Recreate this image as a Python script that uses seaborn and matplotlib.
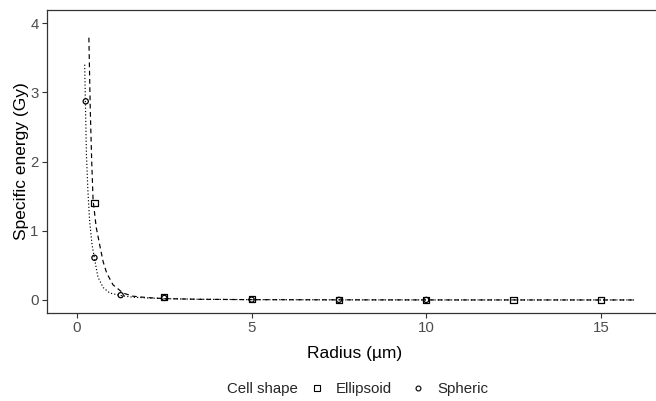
import matplotlib
matplotlib.use("Agg")
import matplotlib.pyplot as plt
from matplotlib.lines import Line2D
import numpy as np
import pandas as pd
import seaborn as sns

# Simulated specific energy per cell radius
ellipsoid_r = [0.5, 2.5, 5, 7.5, 10, 12.5, 15]
ellipsoid_z = [1.40, 0.04, 0.01, 0.005, 0.003, 0.002, 0.001]
spheric_r = [0.25, 0.5, 1.25, 2.5, 5, 7.5, 10]
spheric_z = [2.87, 0.61, 0.07, 0.03, 0.005, 0.002, 0.001]

# Fitted curves
ellipsoid_fit_r = [0.34, 0.38, 0.42, 0.46, 0.55, 0.66, 0.75, 0.85, 1.03, 1.32,
                   1.6, 2.0, 2.5, 3.5, 5, 7.5, 10, 12.5, 16]
ellipsoid_fit_z = [3.79, 2.75, 2.02, 1.45, 1.05, 0.77, 0.55, 0.39, 0.22, 0.10,
                   0.055, 0.035, 0.02, 0.01, 0.005, 0.002, 0.001, 0.0006, 0.0003]
spheric_fit_r = [0.22, 0.24, 0.27, 0.31, 0.36, 0.43, 0.5, 0.6, 0.75, 0.94,
                 1.25, 1.6, 2.0, 2.5, 3.5, 5, 7.5, 10, 12.5, 16]
spheric_fit_z = [3.40, 2.87, 2.10, 1.60, 1.15, 0.80, 0.60, 0.33, 0.18, 0.10,
                 0.065, 0.04, 0.03, 0.02, 0.01, 0.005, 0.002, 0.001, 0.0006, 0.0003]

shapes = ["Ellipsoid", "Spheric"]

points = pd.DataFrame({
    "r": ellipsoid_r + spheric_r,
    "z": ellipsoid_z + spheric_z,
    "shape": ["Ellipsoid"] * len(ellipsoid_r) + ["Spheric"] * len(spheric_r),
})
curves = pd.DataFrame({
    "r": ellipsoid_fit_r + spheric_fit_r,
    "z": ellipsoid_fit_z + spheric_fit_z,
    "shape": ["Ellipsoid"] * len(ellipsoid_fit_r) + ["Spheric"] * len(spheric_fit_r),
})

sns.set_theme(style="white")
plt.rcParams["font.family"] = ["Liberation Sans", "DejaVu Sans"]

W, H = 656, 401
fig = plt.figure(figsize=(W / 100, H / 100), dpi=100)
ax = fig.add_axes([47 / W, 1 - 313 / H, (662 - 47) / W, (313 - 10) / H])

sns.lineplot(data=curves, x="r", y="z", style="shape", style_order=shapes,
             dashes={"Ellipsoid": (4, 3), "Spheric": (1, 1.8)},
             color="black", linewidth=0.85, sort=False, estimator=None,
             legend=False, ax=ax)

marker_spec = {"Ellipsoid": ("s", 20), "Spheric": ("o", 14)}
for shp in shapes:
    sub = points[points["shape"] == shp]
    m, s = marker_spec[shp]
    sns.scatterplot(data=sub, x="r", y="z", marker=m, s=s,
                    facecolor="none", edgecolor="black", linewidth=0.9,
                    legend=False, ax=ax, zorder=3)

ax.set_xlim(-0.859, 16.75)
ax.set_ylim(-0.188, 4.19)
ax.set_xticks([0, 5, 10, 15])
ax.set_yticks([0, 1, 2, 3, 4])
ax.tick_params(axis="both", which="major", length=3.5, width=0.8,
               color="#333333", labelsize=10.8, labelcolor="#4D4D4D",
               bottom=True, left=True, pad=2.5)
for sp in ax.spines.values():
    sp.set_color("#333333")
    sp.set_linewidth(0.9)
ax.grid(False)

ax.set_xlabel("Radius (µm)", fontsize=12.5, color="black", labelpad=8)
ax.set_ylabel("Specific energy (Gy)", fontsize=12.5, color="black", labelpad=1)

# Legend along the bottom
fig.text(227 / W, 1 - 389 / H, "Cell shape", fontsize=10.8, va="center", ha="left")
handles = [
    Line2D([], [], linestyle="none", marker="s", markersize=4.5,
           markerfacecolor="none", markeredgecolor="black", markeredgewidth=0.8),
    Line2D([], [], linestyle="none", marker="o", markersize=3.5,
           markerfacecolor="none", markeredgecolor="black", markeredgewidth=0.8),
]
fig.legend(handles=handles, labels=shapes, ncol=2, frameon=False,
           loc="center left", bbox_to_anchor=(306 / W, 1 - 389 / H),
           fontsize=10.8, handlelength=1.4, handletextpad=0.6,
           columnspacing=1.0, borderpad=0, borderaxespad=0)

fig.savefig("out.png", dpi=100, facecolor="white")
